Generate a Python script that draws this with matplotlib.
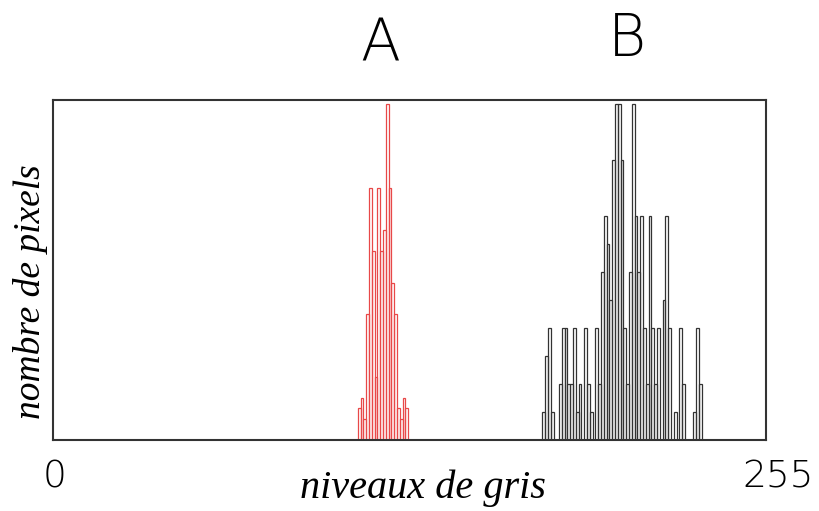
import matplotlib
matplotlib.use("Agg")
import matplotlib.pyplot as plt
import numpy as np

# grey levels and pixel counts
red_levels = [109, 110, 111, 112, 113, 114, 115, 116, 117, 118, 119, 120, 121, 122, 123, 124, 125, 126]
red_counts = [3, 4, 2, 12, 24, 18, 6, 24, 18, 20, 32, 24, 15, 12, 3, 2, 4, 3]

black_levels = [175, 176, 177, 178, 181, 182, 183, 184, 185, 186, 187, 188, 190, 191, 192,
                194, 195, 196, 197, 198, 199, 200, 201, 202, 203, 204, 205, 206, 207, 208,
                209, 210, 211, 212, 213, 214, 215, 216, 218, 219, 220, 222, 224, 225, 229,
                230, 231]
black_counts = [1, 3, 4, 1, 2, 4, 4, 2, 2, 4, 1, 2, 4, 2, 1,
                4, 2, 6, 8, 7, 5, 10, 12, 12, 10, 4, 2, 6, 12, 8,
                6, 8, 4, 2, 8, 4, 2, 4, 5, 8, 4, 1, 4, 2, 1,
                4, 2]

labels_top = ["A", "B"]
x_ticks = ["0", "255"]

fig = plt.figure(figsize=(8.19, 5.11), dpi=100)
ax = fig.add_axes([0.0647, 0.139, 0.8706, 0.665])

red = np.array(red_counts) / max(red_counts)
blk = np.array(black_counts) / max(black_counts)
ax.bar(red_levels, red, width=1.0, align='edge', fill=False,
       edgecolor='#e84848', linewidth=0.9)
ax.bar(black_levels, blk, width=1.0, align='edge', fill=False,
       edgecolor='#333333', linewidth=0.9)

ax.set_xlim(0, 255)
ax.set_ylim(0, 1.012)
ax.set_xticks([])
ax.set_yticks([])
for s in ax.spines.values():
    s.set_color('#333333')
    s.set_linewidth(1.5)

cond = ['DejaVu Sans']
fig.text(0.464, 0.912, labels_top[0], ha='center', va='center', fontsize=42,
         family=cond, weight='light')
fig.text(0.766, 0.922, labels_top[1], ha='center', va='center', fontsize=42,
         family=cond, weight='light')
fig.text(0.067, 0.067, x_ticks[0], ha='center', va='center', fontsize=27,
         family=cond, weight='light')
fig.text(0.950, 0.067, x_ticks[1], ha='center', va='center', fontsize=27,
         family=cond, weight='light')

fig.text(0.516, 0.045, "niveaux de gris", ha='center', va='center', fontsize=29,
         family='Liberation Serif', style='italic')
fig.text(0.037, 0.43, "nombre de pixels", ha='center', va='center', fontsize=27,
         family='Liberation Serif', style='italic', rotation=90)

fig.savefig("out.png", dpi=100)
